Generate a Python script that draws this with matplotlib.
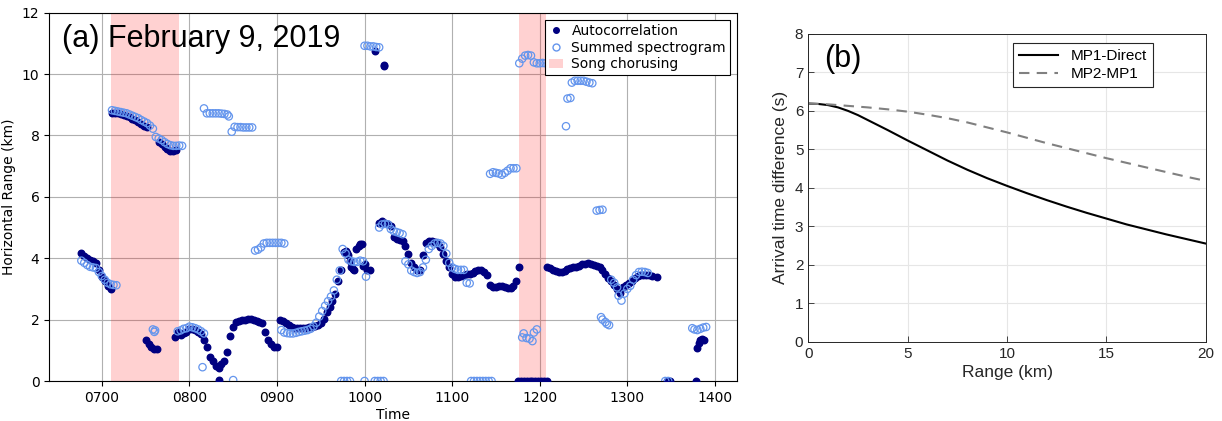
import numpy as np
import matplotlib
matplotlib.use("Agg")
import matplotlib.pyplot as plt
from matplotlib.lines import Line2D
from matplotlib.patches import Patch

# ---- panel (a): range estimates vs time (minutes after midnight) ----
# autocorrelation estimates (filled navy dots)
auto_t = (list(range(406, 427, 2))
          + list(range(427, 452, 2))
          + [459, 461, 463, 465, 467, 469, 471]
          + [450, 452, 454, 456, 458]
          + list(range(470, 541, 2)) + [500]
          + list(range(542, 605, 2))
          + [587, 589, 591, 593, 597, 599]
          + [607.4, 613, 613.5]
          + list(range(610, 705, 2)) + [706]
          + list(range(705, 726, 2))
          + list(range(725, 798, 2)) + [800.5]
          + [807, 809, 827]
          + [828, 829, 830, 831, 832.5])
auto_r = ([4.16, 4.08, 4.0, 3.93, 3.9, 3.85, 3.62, 3.40, 3.25, 3.1, 3.0]
          + [8.74, 8.73, 8.72, 8.70, 8.67, 8.64, 8.60, 8.55, 8.50, 8.44, 8.38, 8.32, 8.28]
          + [7.8, 7.72, 7.63, 7.55, 7.50, 7.50, 7.52]
          + [1.32, 1.2, 1.1, 1.05, 1.05]
          + [1.44, 1.6, 1.5, 1.55, 1.6, 1.68, 1.68, 1.65, 1.6, 1.52,
             1.35, 1.1, 0.78, 0.66, 0.5, 0.42, 0.55, 0.65, 0.95, 1.45,
             1.75, 1.93, 1.97, 1.98, 2.0, 2.02, 2.02, 2.0, 1.96, 1.93,
             1.88, 1.6, 1.32, 1.2, 1.12, 1.1] + [0.02]
          + [1.99, 1.96, 1.9, 1.82, 1.76, 1.73, 1.72, 1.72, 1.73, 1.74,
             1.75, 1.77, 1.78, 1.82, 1.9, 2.03, 2.25, 2.4, 2.6, 2.85,
             3.25, 3.6, 4.2, 4.16, 3.9, 3.65, 4.3, 4.4, 4.47, 3.8, 3.62, 3.63]
          + [4.22, 4.1, 3.72, 3.6, 4.45, 3.75]
          + [10.76, 10.28, 10.26]
          + [5.14, 5.2, 5.15, 5.1, 5.05, 4.7, 4.62, 4.6, 4.55, 4.4,
             4.15, 3.85, 3.72, 3.6, 3.62, 4.1, 4.5, 4.55, 4.55, 4.52,
             4.45, 4.38, 4.15, 3.9, 3.72, 3.5, 3.4, 3.38, 3.42, 3.45,
             3.48, 3.5, 3.52, 3.58, 3.62, 3.6, 3.55, 3.45, 3.13, 3.05,
             3.05, 3.08, 3.1, 3.07, 3.04, 3.03, 3.1, 3.25] + [3.72]
          + [0.0] * 11
          + [3.72, 3.68, 3.63, 3.58, 3.55, 3.55, 3.58, 3.65, 3.68, 3.7,
             3.72, 3.76, 3.8, 3.82, 3.83, 3.8, 3.78, 3.75, 3.72, 3.62,
             3.48, 3.35, 3.25, 3.12, 3.0, 2.88, 3.05, 3.12, 3.18, 3.25,
             3.35, 3.42, 3.45, 3.46, 3.45, 3.45, 3.42] + [3.40]
          + [0.0, 0.0, 0.0]
          + [1.07, 1.25, 1.33, 1.36, 1.33])

# summed spectrogram estimates (open circles)
spec_t = (list(range(406, 431, 2))
          + list(range(427, 456, 2))
          + list(range(457, 476, 2))
          + [455, 456, 456.5]
          + list(range(472, 491, 2))
          + [489, 510]
          + [490, 492, 494, 496, 498, 500, 502, 504, 506, 507, 509,
             511, 513, 515, 517, 519, 521, 523]
          + [525, 527, 529, 531, 533, 535, 537, 539, 541, 543, 545]
          + list(range(543, 602, 2))
          + list(range(600, 611, 2))
          + [584, 586, 588, 590, 600, 607, 609, 611, 613]
          + list(range(610, 673, 2))
          + list(range(673, 688, 2))
          + list(range(686, 705, 2))
          + [708, 709, 711, 713, 715, 716, 718]
          + list(range(706, 729, 2))
          + [738, 739, 741, 742, 744, 746, 748, 750, 752, 754, 756]
          + [759, 761, 763]
          + [762, 763, 765, 766, 767.5]
          + [769, 771, 773, 774, 776, 778, 780, 782, 784, 786, 788, 790, 792, 794]
          + [806, 808]
          + [824.5, 826, 828, 830, 832, 834])
spec_r = ([3.92, 3.85, 3.78, 3.72, 3.70, 3.68, 3.55, 3.42, 3.3, 3.2, 3.15, 3.13, 3.12]
          + [8.82, 8.80, 8.78, 8.76, 8.74, 8.72, 8.68, 8.64, 8.60, 8.56,
             8.50, 8.45, 8.40, 8.32, 8.22]
          + [7.95, 7.90, 7.85, 7.78, 7.72, 7.68, 7.66, 7.66, 7.67, 7.66]
          + [1.68, 1.6, 1.65]
          + [1.62, 1.65, 1.7, 1.72, 1.77, 1.75, 1.72, 1.68, 1.62, 1.55]
          + [0.45, 0.03]
          + [8.88, 8.72, 8.72, 8.72, 8.72, 8.72, 8.71, 8.70, 8.68, 8.62, 8.12,
             8.28, 8.27, 8.27, 8.26, 8.26, 8.26, 8.26]
          + [4.25, 4.28, 4.35, 4.48, 4.5, 4.5, 4.5, 4.5, 4.5, 4.5, 4.48]
          + [1.66, 1.58, 1.56, 1.55, 1.55, 1.57, 1.6, 1.62, 1.64, 1.66,
             1.7, 1.78, 1.9, 2.1, 2.28, 2.45, 2.6, 2.75, 2.95, 3.3,
             3.6, 4.3, 4.15, 3.95, 3.9, 3.88, 3.88, 3.92, 3.9, 3.4]
          + [10.92, 10.92, 10.9, 10.9, 10.88, 10.87]
          + [0.0] * 9
          + [5.0, 5.1, 5.12, 5.1, 4.95, 4.88, 4.85, 4.82, 4.78, 3.9,
             3.8, 3.6, 3.55, 3.52, 3.55, 3.7, 3.95, 4.3, 4.4, 4.48,
             4.5, 4.48, 4.4, 4.15, 3.85, 3.7, 3.65, 3.62, 3.62, 3.62, 3.2, 3.18]
          + [0.0] * 8
          + [6.75, 6.8, 6.78, 6.76, 6.72, 6.78, 6.85, 6.93, 6.93, 6.93]
          + [1.42, 1.55, 1.4, 1.38, 1.3, 1.58, 1.68]
          + [10.35, 10.5, 10.6, 10.62, 10.6, 10.38, 10.35, 10.35, 10.36, 10.35, 10.35, 10.38]
          + [8.3, 9.2, 9.22, 9.72, 9.78, 9.78, 9.78, 9.78, 9.75, 9.72, 9.7]
          + [5.55, 5.57, 5.58]
          + [2.08, 2.0, 1.92, 1.86, 1.82]
          + [3.3, 3.2, 3.05, 2.78, 2.62, 2.85, 3.0, 3.1, 3.3, 3.45, 3.55, 3.56, 3.55, 3.52]
          + [0.0, 0.0]
          + [1.72, 1.68, 1.66, 1.7, 1.74, 1.76])

chorus_start = [426.4, 705.7]
chorus_end = [473.0, 724.4]
hour_ticks = [420, 480, 540, 600, 660, 720, 780, 840]
hour_labels = ["0700", "0800", "0900", "1000", "1100", "1200", "1300", "1400"]

# ---- panel (b): arrival time difference vs range ----
range_direct = [0, 0.5, 1, 1.5, 2, 2.5, 3, 4, 5, 6, 7, 8, 9, 10,
                11, 12, 13, 14, 15, 16, 17, 18, 19, 20]
mp1_direct = [6.19, 6.18, 6.15, 6.09, 6.0, 5.89, 5.76, 5.5, 5.23, 4.97, 4.71, 4.47,
              4.25, 4.05, 3.86, 3.68, 3.51, 3.35, 3.2, 3.05, 2.92, 2.79, 2.67, 2.55]
range_mp = [0, 1, 2, 3, 4, 5, 6, 7, 8, 9, 10, 11, 12, 13, 14, 15, 16, 17, 18, 19, 20]
mp2_mp1 = [6.19, 6.17, 6.13, 6.09, 6.04, 5.98, 5.9, 5.81, 5.7, 5.57, 5.44,
           5.3, 5.16, 5.03, 4.9, 4.77, 4.65, 4.53, 4.41, 4.29, 4.18]

fig = plt.figure(figsize=(12.22, 4.21), dpi=100)

# ---------------- (a) ----------------
ax = fig.add_axes([0.0403, 0.095, 0.563, 0.875])
for s, e in zip(chorus_start, chorus_end):
    ax.axvspan(s, e, color="red", alpha=0.18, lw=0, zorder=1)
ax.scatter(auto_t, auto_r, s=22, color="navy", zorder=3)
ax.scatter(spec_t, spec_r, s=28, facecolors="none", edgecolors="cornflowerblue",
           linewidths=0.9, zorder=4)
ax.set_xlim(384, 855.3)
ax.set_ylim(0, 12)
ax.set_xticks(hour_ticks)
ax.set_xticklabels(hour_labels)
ax.set_yticks([0, 2, 4, 6, 8, 10, 12])
ax.tick_params(labelsize=10)
ax.grid(True, color="#b0b0b0", lw=0.8)
ax.set_axisbelow(True)
ax.set_xlabel("Time", fontsize=10, labelpad=2)
ax.set_ylabel("Horizontal Range (km)", fontsize=10)
ax.text(0.018, 0.9077, "(a) February 9, 2019", transform=ax.transAxes,
        fontsize=22, family="Liberation Sans", va="baseline", zorder=6)

handles = [
    Line2D([], [], ls="none", marker="o", ms=4, color="navy"),
    Line2D([], [], ls="none", marker="o", ms=5, mfc="none", mec="cornflowerblue"),
    Patch(facecolor="red", alpha=0.18, lw=0),
]
leg = ax.legend(handles, ["Autocorrelation", "Summed spectrogram", "Song chorusing"],
                loc="upper right", fontsize=10, fancybox=False, framealpha=1,
                edgecolor="black", borderaxespad=0.5, handlelength=1.0,
                handletextpad=0.6, borderpad=0.3, labelspacing=0.2)
leg.get_frame().set_linewidth(0.8)
leg.set_zorder(10)

# ---------------- (b) ----------------
dark = "#262626"
bx = fig.add_axes([0.6614, 0.1884, 0.3254, 0.731])
bx.plot(range_direct, mp1_direct, color="black", lw=1.5, label="MP1-Direct")
bx.plot(range_mp, mp2_mp1, color="#808080", lw=1.5, ls=(0, (5, 3.5)), label="MP2-MP1")
bx.set_xlim(0, 20)
bx.set_ylim(0, 8)
bx.set_xticks([0, 5, 10, 15, 20])
bx.set_yticks(range(0, 9))
bx.grid(True, color="#e6e6e6", lw=0.8)
bx.set_axisbelow(True)
for sp in bx.spines.values():
    sp.set_color(dark)
    sp.set_linewidth(0.7)
bx.tick_params(direction="in", length=4, width=0.6, color=dark, labelcolor=dark,
               labelsize=11)
for lab in bx.get_xticklabels() + bx.get_yticklabels():
    lab.set_family("Liberation Sans")
bx.set_xlabel("Range (km)", fontsize=12.5, family="Liberation Sans", color=dark, labelpad=3)
bx.set_ylabel("Arrival time difference (s)", fontsize=12.5, family="Liberation Sans",
              color=dark, labelpad=5)
bx.text(0.04, 0.893, "(b)", transform=bx.transAxes, fontsize=22,
        family="Liberation Sans", va="baseline", color="black")
leg2 = bx.legend(loc="upper left", bbox_to_anchor=(0.514, 0.97), borderaxespad=0,
                 prop={"family": "Liberation Sans", "size": 11}, fancybox=False,
                 framealpha=1, edgecolor=dark, handlelength=2.6, borderpad=0.4,
                 labelspacing=0.25)
leg2.get_frame().set_linewidth(0.8)

fig.savefig("out.png", dpi=100)
